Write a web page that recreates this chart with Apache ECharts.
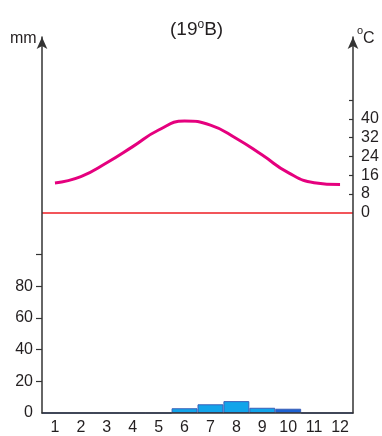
<!DOCTYPE html>
<html>
<head>
<meta charset="utf-8">
<script src="https://cdn.jsdelivr.net/npm/echarts@6/dist/echarts.min.js"></script>
<style>
html,body{margin:0;padding:0;background:#fff;}
#c{width:382px;height:436px;}
</style>
</head>
<body>
<div id="c"></div>
<script>
var months = ['1','2','3','4','5','6','7','8','9','10','11','12'];
var precipitation = [0,0,0,0,0,3,5.5,7.5,3.3,2.7,0,0];
var temperature = [12.7,15.4,21.3,28.2,35.3,39.1,37.4,31.7,24.6,17.1,12.8,12.0];
var mmTicks = [20,40,60,80,100];
var mmLabels = [0,20,40,60,80];
var tTicks = [8,16,24,32,40,48];
var tLabels = [0,8,16,24,32,40];

var FONT = '"Liberation Sans",Arial,sans-serif';
var TXT = '#231f20';
var AX = '#333333';

var chart = echarts.init(document.getElementById('c'), null, {renderer:'canvas'});
chart.setOption({
  animation:false,
  backgroundColor:'#fff',
  title:{
    text:'{a|(19}{b|o}{a|B)}',
    left:165, top:14,
    textStyle:{
      fontWeight:'normal',
      rich:{
        a:{fontFamily:FONT,fontSize:19,fontWeight:'normal',color:TXT,lineHeight:22},
        b:{fontFamily:FONT,fontSize:12,fontWeight:'normal',color:TXT,verticalAlign:'top',lineHeight:22,padding:[0,0,8,0]}
      }
    }
  },
  graphic:[
    {type:'text',left:10,top:31,style:{text:'mm',font:'16px '+FONT,fill:TXT}},
    {type:'text',left:357,top:25,style:{text:'o',font:'11px '+FONT,fill:TXT}},
    {type:'text',left:363,top:31,style:{text:'C',font:'16px '+FONT,fill:TXT}}
  ],
  grid:{left:42,right:29,top:37,bottom:23},
  xAxis:{
    type:'category',
    data:months,
    boundaryGap:true,
    z:5,
    axisLine:{show:true,lineStyle:{color:AX,width:1.5}},
    axisTick:{show:false},
    axisLabel:{fontFamily:FONT,fontSize:16,color:TXT,margin:7}
  },
  yAxis:[
    {
      type:'value',position:'left',min:0,max:237.5,
      z:5,
      axisLine:{show:true,lineStyle:{color:AX,width:1.5},symbol:['none','arrow'],symbolSize:[8,12]},
      axisTick:{show:true,inside:false,length:6,lineStyle:{color:AX,width:1.2},customValues:mmTicks},
      axisLabel:{fontFamily:FONT,fontSize:16,color:TXT,margin:9,customValues:mmLabels},
      splitLine:{show:false}
    },
    {
      type:'value',position:'right',min:-85.5,max:75,
      z:5,
      axisLine:{show:true,lineStyle:{color:AX,width:1.5},symbol:['none','arrow'],symbolSize:[8,12]},
      axisTick:{show:true,inside:true,length:4,lineStyle:{color:AX,width:1.2},customValues:tTicks},
      axisLabel:{fontFamily:FONT,fontSize:16,color:TXT,margin:8,customValues:tLabels},
      splitLine:{show:false}
    }
  ],
  series:[
    {
      type:'bar',
      yAxisIndex:0,
      z:1,
      data:precipitation,
      barWidth:'100%',
      barCategoryGap:'0%',
      itemStyle:{
        color:function(p){return p.dataIndex===9?'#1e62d2':'#12a4ea';},
        borderColor:'#3a5fb8',
        borderWidth:1
      }
    },
    {
      type:'line',
      yAxisIndex:1,
      data:temperature,
      smooth:true,
      symbol:'none',
      lineStyle:{color:'#e5007e',width:3},
      markLine:{
        silent:true,
        symbol:['none','none'],
        label:{show:false},
        lineStyle:{color:'#ee1d23',width:1.5,type:'solid'},
        data:[{yAxis:0}]
      }
    }
  ]
});
</script>
</body>
</html>
